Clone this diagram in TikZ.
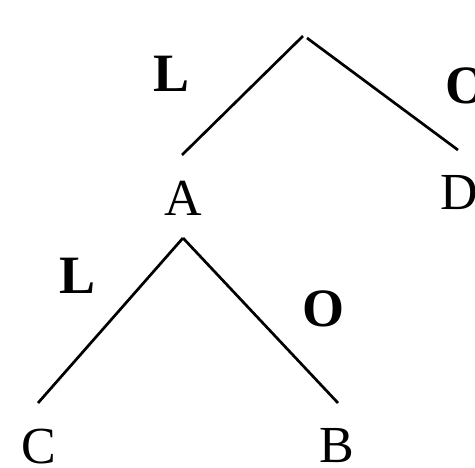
\documentclass[tikz,border=0pt]{standalone}
\usepackage{fontspec}
\setmainfont{Liberation Serif}
\begin{document}
\begin{tikzpicture}[x=1pt,y=1pt,
  lbl/.style={inner sep=0pt, text height=34.4pt, text depth=0pt, font=\fontsize{52}{60}\selectfont},
  blbl/.style={inner sep=0pt, text height=35.7pt, text depth=0pt, font=\fontsize{54}{60}\selectfont\bfseries},
  edge/.style={line width=2.7pt}]
\useasboundingbox (0,0) rectangle (475,-468);
% edge end points
\coordinate (rootL) at (303,-36);
\coordinate (rootR) at (307,-38);
\coordinate (aTop) at (182,-155);
\coordinate (dTop) at (458,-150);
\coordinate (aBot) at (183,-238);
\coordinate (cTop) at (38,-403);
\coordinate (bTop) at (338,-403);
% labels
\node[lbl] (A) at (183,-198) {A};
\node[lbl] (D) at (459,-192) {D};
\node[lbl] (C) at (39,-446) {C};
\node[lbl] (B) at (337,-445) {B};
\node[blbl] (L1) at (172,-74) {L};
\node[blbl] (O1) at (466,-86) {O};
\node[blbl] (L2) at (78,-276) {L};
\node[blbl] (O2) at (324,-309) {O};
% edges
\draw[edge] (rootL) -- (aTop);
\draw[edge] (rootR) -- (dTop);
\draw[edge] (aBot) -- (cTop);
\draw[edge] (aBot) -- (bTop);
\end{tikzpicture}
\end{document}
